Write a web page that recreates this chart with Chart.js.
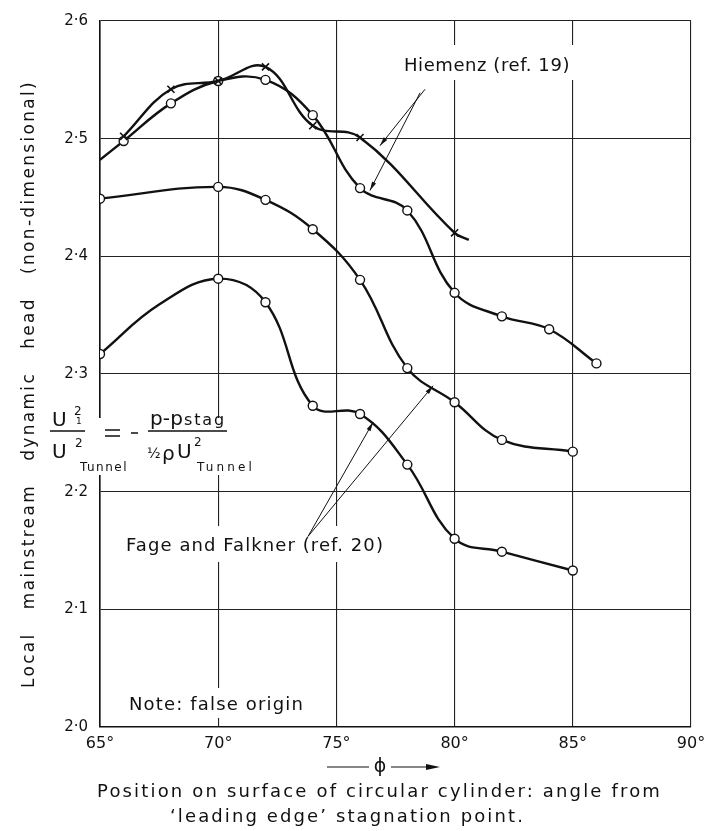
<!DOCTYPE html>
<html>
<head>
<meta charset="utf-8">
<title>Local mainstream dynamic head</title>
<script src="https://cdn.jsdelivr.net/npm/chart.js@4.4.0/dist/chart.umd.min.js"></script>
<style>
  body { margin: 0; background: #fff; }
  canvas { display: block; }
</style>
</head>
<body>
<canvas id="chart" width="725" height="831"></canvas>
<script>
// values (angle in degrees, U1^2/U^2 tunnel)
const hiemenzCrossAngle = [66, 68, 70, 72, 74, 76, 80, 80.6];
const hiemenzCrossValue = [2.502, 2.542, 2.549, 2.561, 2.511, 2.501, 2.420, 2.414];

const hiemenzCircleAngle = [65, 66, 68, 70, 72, 74, 76, 78, 80, 82, 84, 86];
const hiemenzCircleValue = [2.482, 2.498, 2.530, 2.549, 2.550, 2.520, 2.458, 2.439, 2.369, 2.349, 2.338, 2.309];

const fageUpperAngle = [65, 70, 72, 74, 76, 78, 80, 82, 85];
const fageUpperValue = [2.449, 2.459, 2.448, 2.423, 2.380, 2.305, 2.276, 2.244, 2.234];

const fageLowerAngle = [65, 67.5, 70, 72, 74, 76, 78, 80, 82, 85];
const fageLowerValue = [2.317, 2.359, 2.381, 2.361, 2.273, 2.266, 2.223, 2.160, 2.149, 2.133];

const xTicks = [65, 70, 75, 80, 85, 90];
const yTicks = [2.0, 2.1, 2.2, 2.3, 2.4, 2.5, 2.6];

const FONT = '"DejaVu Sans", sans-serif';
const INK = '#111';

function points(xs, ys) {
    return xs.map(function(x, i) { return { x: x, y: ys[i] }; });
}

// draw text stretched to a given width with letter spacing
function fitText(ctx, text, x, y, width) {
    ctx.letterSpacing = '0px';
    const w = ctx.measureText(text).width;
    const ls = Math.max(0, (width - w) / text.length);
    ctx.letterSpacing = ls + 'px';
    ctx.fillText(text, x, y);
    ctx.letterSpacing = '0px';
}

function leader(ctx, chart, x0, y0, x1, y1) {
    const sx = chart.scales.x, sy = chart.scales.y;
    const ax = sx.getPixelForValue(x0), ay = sy.getPixelForValue(y0);
    const bx = sx.getPixelForValue(x1), by = sy.getPixelForValue(y1);
    ctx.beginPath();
    ctx.moveTo(ax, ay);
    ctx.lineTo(bx, by);
    ctx.lineWidth = 1;
    ctx.stroke();
    // little dart head near the tip
    const a = Math.atan2(by - ay, bx - ax);
    const L = 9, W = 2.2;
    ctx.beginPath();
    ctx.moveTo(bx, by);
    ctx.lineTo(bx - L * Math.cos(a) + W * Math.sin(a), by - L * Math.sin(a) - W * Math.cos(a));
    ctx.lineTo(bx - L * Math.cos(a) - W * Math.sin(a), by - L * Math.sin(a) + W * Math.cos(a));
    ctx.closePath();
    ctx.fill();
}

const decorations = {
    id: 'decorations',
    beforeDraw(chart) {
        const ctx = chart.ctx;
        ctx.save();
        ctx.fillStyle = '#fff';
        ctx.fillRect(0, 0, chart.width, chart.height);
        ctx.restore();
    },
    beforeDatasetsDraw(chart) {
        // lettering breaks the grid lines
        const ctx = chart.ctx;
        ctx.save();
        ctx.fillStyle = '#fff';
        ctx.fillRect(48, 418, 216, 57);
        ctx.fillRect(400, 45, 176, 35);
        ctx.fillRect(120, 526, 270, 36);
        ctx.fillRect(124, 688, 186, 30);
        ctx.restore();
    },
    afterDatasetsDraw(chart) {
        const ctx = chart.ctx;
        ctx.save();
        ctx.fillStyle = INK;
        ctx.strokeStyle = INK;
        ctx.textBaseline = 'middle';
        ctx.textAlign = 'left';

        // labels and leader lines
        ctx.font = '18px ' + FONT;
        fitText(ctx, 'Hiemenz (ref. 19)', 404, 66, 166);
        leader(ctx, chart, 78.75, 2.542, 76.84, 2.494);
        leader(ctx, chart, 78.54, 2.539, 76.42, 2.456);

        fitText(ctx, 'Fage and Falkner (ref. 20)', 126, 546, 258);
        leader(ctx, chart, 73.80, 2.162, 76.55, 2.259);
        leader(ctx, chart, 73.80, 2.162, 79.09, 2.290);

        fitText(ctx, 'Note: false origin', 129, 705, 175);

        // formula
        ctx.textBaseline = 'alphabetic';
        ctx.font = '20px ' + FONT;
        ctx.fillText('U', 52, 426);
        ctx.fillText('U', 52, 458);
        ctx.font = '12px ' + FONT;
        ctx.fillText('2', 74, 415);
        ctx.fillText('2', 75, 447);
        ctx.font = '9px ' + FONT;
        ctx.fillText('1', 76, 424);
        ctx.font = '12px ' + FONT;
        fitText(ctx, 'Tunnel', 80, 471, 48);
        ctx.lineWidth = 1.3;
        ctx.beginPath();
        ctx.moveTo(50, 431); ctx.lineTo(85, 431);
        ctx.moveTo(105, 430); ctx.lineTo(120, 430);
        ctx.moveTo(105, 436); ctx.lineTo(120, 436);
        ctx.moveTo(131, 433); ctx.lineTo(138, 433);
        ctx.moveTo(148, 431); ctx.lineTo(227, 431);
        ctx.stroke();
        ctx.font = '20px ' + FONT;
        fitText(ctx, 'p-p', 150, 425, 33);
        ctx.font = '16px ' + FONT;
        fitText(ctx, 'stag', 184, 425, 42);
        ctx.font = '14px ' + FONT;
        ctx.fillText('\u00bd', 147, 458);
        ctx.font = '20px ' + FONT;
        ctx.fillText('\u03c1', 162, 460);
        ctx.fillText('U', 177, 458);
        ctx.font = '12px ' + FONT;
        ctx.fillText('2', 194, 446);
        ctx.font = '12px ' + FONT;
        fitText(ctx, 'Tunnel', 197, 471, 58);

        // y axis title
        ctx.save();
        ctx.translate(30, 384);
        ctx.rotate(-Math.PI / 2);
        ctx.textBaseline = 'middle';
        ctx.font = '17px ' + FONT;
        fitText(ctx, 'Local   mainstream   dynamic   head   (non-dimensional)', -304, 0, 608);
        ctx.restore();

        // phi arrow
        ctx.lineWidth = 1.2;
        ctx.beginPath();
        ctx.moveTo(327, 767); ctx.lineTo(369, 767);
        ctx.moveTo(391, 767); ctx.lineTo(432, 767);
        ctx.stroke();
        ctx.beginPath();
        ctx.moveTo(440, 767); ctx.lineTo(426, 764); ctx.lineTo(426, 770);
        ctx.closePath();
        ctx.fill();
        ctx.font = '19px ' + FONT;
        ctx.textAlign = 'center';
        ctx.textBaseline = 'middle';
        ctx.fillText('\u03d5', 380, 767);

        // caption
        ctx.textAlign = 'left';
        ctx.font = '18px ' + FONT;
        fitText(ctx, 'Position on surface of circular cylinder: angle from', 97, 792, 565);
        fitText(ctx, '\u2018leading edge\u2019 stagnation point.', 170, 817, 355);
        ctx.restore();
    }
};

const lineStyle = {
    borderColor: INK,
    borderWidth: 2.4,
    tension: 0.4,
    fill: false,
    pointBorderColor: INK,
    pointBackgroundColor: '#fff',
    pointBorderWidth: 1.4
};

new Chart(document.getElementById('chart').getContext('2d'), {
    type: 'line',
    data: {
        datasets: [
            Object.assign({}, lineStyle, {
                label: 'Hiemenz (ref. 19) x',
                data: points(hiemenzCrossAngle, hiemenzCrossValue),
                pointStyle: 'crossRot',
                pointRadius: hiemenzCrossAngle.map(function(a, i) { return i === hiemenzCrossAngle.length - 1 ? 0 : 5; }),
                pointBorderWidth: 1.6
            }),
            Object.assign({}, lineStyle, {
                label: 'Hiemenz (ref. 19) o',
                data: points(hiemenzCircleAngle, hiemenzCircleValue),
                pointRadius: hiemenzCircleAngle.map(function(a, i) { return i === 0 ? 0 : 4.5; })
            }),
            Object.assign({}, lineStyle, {
                label: 'Fage and Falkner (ref. 20) upper',
                data: points(fageUpperAngle, fageUpperValue),
                pointRadius: 4.5
            }),
            Object.assign({}, lineStyle, {
                label: 'Fage and Falkner (ref. 20) lower',
                data: points(fageLowerAngle, fageLowerValue),
                pointRadius: fageLowerAngle.map(function(a, i) { return i === 1 ? 0 : 4.5; })
            })
        ]
    },
    options: {
        responsive: false,
        animation: false,
        devicePixelRatio: 1,
        layout: { padding: { left: 40, right: 34, top: 11, bottom: 74 } },
        plugins: {
            legend: { display: false },
            tooltip: { enabled: false }
        },
        scales: {
            x: {
                type: 'linear',
                min: 65,
                max: 90,
                afterBuildTicks: function(scale) {
                    scale.ticks = xTicks.map(function(v) { return { value: v }; });
                },
                afterFit: function(scale) { scale.height = 30; },
                ticks: {
                    padding: 7,
                    color: INK,
                    font: { family: FONT, size: 16 },
                    maxRotation: 0,
                    callback: function(v) { return v + '\u00b0'; }
                },
                grid: { color: '#222', lineWidth: 1.1, drawTicks: false },
                border: { color: INK, width: 1.6 }
            },
            y: {
                min: 2.0,
                max: 2.6,
                afterBuildTicks: function(scale) {
                    scale.ticks = yTicks.map(function(v) { return { value: v }; });
                },
                afterFit: function(scale) { scale.width = 60; },
                ticks: {
                    padding: 12,
                    color: INK,
                    font: { family: FONT, size: 15 },
                    callback: function(v) { return v.toFixed(1).replace('.', '\u00b7'); }
                },
                grid: { color: '#222', lineWidth: 1.1, drawTicks: false },
                border: { color: INK, width: 1.6 }
            }
        }
    },
    plugins: [decorations]
});
</script>
</body>
</html>
